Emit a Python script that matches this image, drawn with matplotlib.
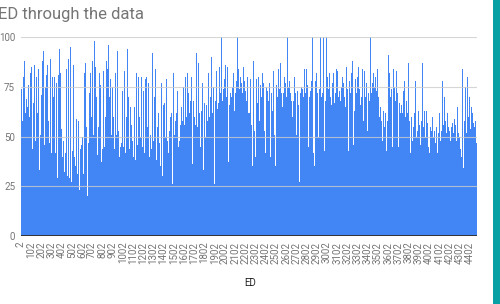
import numpy as np
import matplotlib
matplotlib.use("Agg")
import matplotlib.pyplot as plt
from matplotlib.patches import Rectangle

plt.rcParams['font.family'] = ['Roboto', 'DejaVu Sans']

title = "ED through the data"
x_title = "ED"

# ED range shown on the category axis
ed_first = 2
ed_last = 4474

# peak value per ~10 consecutive ED rows left to right
ed_values = [
    74, 58, 80, 88, 62, 69, 65, 76, 60, 82,
    85, 44, 67, 86, 48, 80, 62, 84, 33, 51,
    71, 88, 93, 46, 75, 81, 86, 58, 47, 89,
    42, 80, 70, 80, 42, 77, 29, 81, 94, 82,
    54, 40, 48, 32, 42, 84, 30, 89, 29, 95,
    27, 43, 86, 40, 35, 59, 31, 58, 23, 44,
    46, 50, 31, 82, 87, 55, 20, 47, 72, 82,
    60, 88, 51, 98, 85, 70, 41, 55, 82, 76,
    37, 44, 83, 45, 60, 88, 84, 96, 70, 79,
    51, 75, 60, 44, 82, 51, 93, 53, 40, 45,
    47, 73, 45, 83, 42, 60, 94, 70, 44, 65,
    56, 48, 40, 65, 38, 82, 46, 80, 60, 50,
    80, 45, 73, 42, 79, 80, 55, 77, 40, 51,
    44, 92, 48, 70, 84, 38, 55, 62, 47, 35,
    77, 30, 66, 67, 50, 79, 48, 42, 53, 60,
    62, 26, 82, 51, 58, 62, 73, 45, 48, 56,
    65, 58, 75, 56, 80, 60, 82, 72, 62, 68,
    80, 36, 68, 60, 56, 92, 55, 87, 62, 45,
    63, 77, 33, 67, 50, 66, 58, 82, 60, 70,
    90, 62, 75, 26, 68, 83, 64, 67, 85, 72,
    100, 68, 74, 79, 86, 70, 85, 37, 66, 72,
    70, 75, 82, 63, 72, 78, 100, 84, 74, 80,
    77, 72, 85, 78, 73, 68, 80, 62, 79, 56,
    35, 88, 53, 40, 79, 67, 80, 58, 76, 70,
    82, 77, 53, 42, 75, 73, 68, 77, 40, 72,
    63, 83, 51, 35, 76, 70, 84, 74, 87, 72,
    65, 72, 80, 77, 70, 100, 75, 78, 72, 68,
    60, 68, 80, 72, 51, 73, 66, 27, 72, 75,
    74, 70, 84, 72, 84, 76, 45, 70, 73, 78,
    100, 42, 35, 78, 82, 72, 50, 74, 100, 70,
    72, 100, 43, 68, 100, 80, 74, 82, 70, 66,
    77, 82, 67, 72, 84, 83, 70, 73, 68, 75,
    80, 77, 70, 65, 85, 74, 43, 78, 72, 82,
    88, 46, 63, 79, 72, 80, 85, 74, 66, 70,
    84, 58, 83, 70, 77, 53, 72, 68, 100, 72,
    77, 82, 75, 80, 73, 84, 70, 60, 65, 58,
    48, 63, 55, 62, 43, 58, 91, 82, 70, 74,
    45, 84, 75, 68, 83, 72, 45, 67, 62, 66,
    62, 73, 78, 60, 68, 62, 87, 58, 42, 60,
    48, 55, 62, 78, 50, 53, 63, 56, 46, 58,
    87, 55, 63, 50, 63, 57, 45, 42, 55, 53,
    60, 50, 53, 47, 55, 42, 52, 62, 48, 53,
    78, 56, 70, 58, 52, 62, 55, 53, 48, 55,
    57, 52, 59, 56, 48, 65, 52, 50, 44, 40,
    84, 34, 58, 75, 52, 80, 60, 70, 54, 65,
    62, 57, 55, 58, 47,
]

x_ticks = list(range(2, 4403, 100))
y_ticks = [0, 25, 50, 75, 100]

grey = "#757575"

fig = plt.figure(figsize=(5.0, 3.04), dpi=100)
ax = fig.add_axes([20.7 / 500, 1 - 236 / 304, 456.6 / 500, 198.7 / 304])

edges = np.linspace(ed_first, ed_last, len(ed_values) + 1)
ax.stairs(ed_values, edges, fill=True, color="#4285F4", linewidth=0)

ax.set_xlim(ed_first, ed_last)
ax.set_ylim(0, 100)

ax.set_yticks(y_ticks)
ax.set_yticklabels([str(v) for v in y_ticks])
ax.set_xticks(x_ticks)
ax.set_xticklabels([str(v) for v in x_ticks], rotation=90)
ax.tick_params(axis="both", length=0, colors=grey, labelsize=7)
ax.tick_params(axis="y", pad=4)
ax.tick_params(axis="x", pad=4)

for v in y_ticks[1:]:
    ax.axhline(v, color="#cccccc", linewidth=0.8, alpha=0.8, zorder=3)
ax.axhline(0, color="#333333", linewidth=1.4, zorder=4)

for s in ax.spines.values():
    s.set_visible(False)

# title is clipped at the left edge, as in the original
fig.text(-2 / 500, 1 - 15 / 304, title, fontsize=12, color=grey,
         ha="left", va="center")
fig.text(250 / 500, 1 - 283 / 304, x_title, fontsize=7, color="#222222",
         ha="center", va="center")

fig.patches.append(Rectangle((493 / 500, 0), 7 / 500, 1, transform=fig.transFigure,
                             facecolor="#08a0a4", edgecolor="none"))

fig.savefig("out.png", dpi=100)
